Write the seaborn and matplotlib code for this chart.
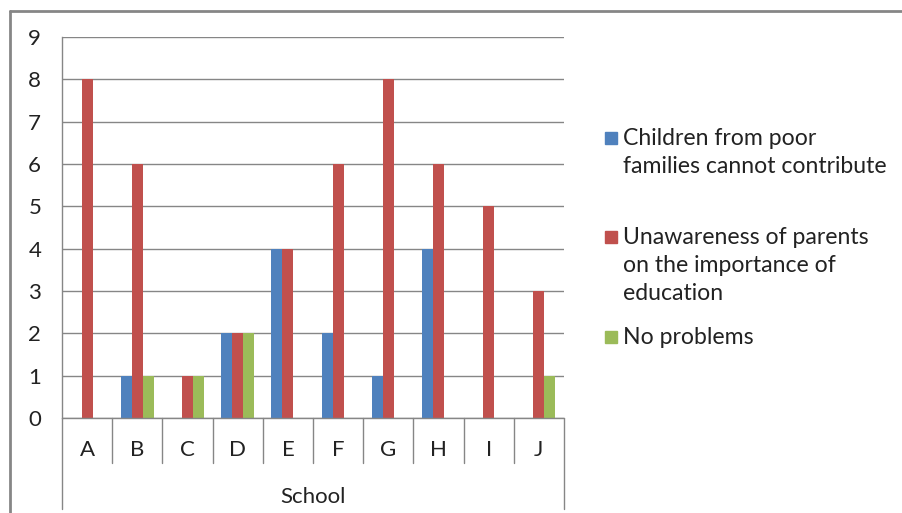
import matplotlib.pyplot as plt
import pandas as pd
import seaborn as sns
from matplotlib.patches import Rectangle
from matplotlib.transforms import blended_transform_factory

schools = ["A", "B", "C", "D", "E", "F", "G", "H", "I", "J"]
poor_families = [0, 1, 0, 2, 4, 2, 1, 4, 0, 0]
unaware_parents = [8, 6, 1, 2, 4, 6, 8, 6, 5, 3]
no_problems = [0, 1, 1, 2, 0, 0, 0, 0, 0, 1]

series_names = [
    "Children from poor\nfamilies cannot contribute",
    "Unawareness of parents\non the importance of\neducation",
    "No problems",
]
colors = ["#4F81BD", "#C0504D", "#9BBB59"]

df = pd.DataFrame({
    "School": schools * 3,
    "Count": poor_families + unaware_parents + no_problems,
    "Reason": [series_names[0]] * 10 + [series_names[1]] * 10 + [series_names[2]] * 10,
})

sns.set_style("white")
plt.rcParams["font.family"] = ["Lato", "DejaVu Sans"]
fs = 16
txt_c = "#222222"

fig = plt.figure(figsize=(9.03, 5.13), dpi=100)
ax = fig.add_axes([0.0687, 0.1852, 0.5559, 0.7427])

sns.barplot(
    data=df, x="School", y="Count", hue="Reason", order=schools,
    hue_order=series_names, palette=colors, width=0.66, saturation=1,
    legend=False, ax=ax, linewidth=0,
)

grid_c = "#868686"
ax.set_ylim(0, 9)
ax.set_xlim(-0.5, len(schools) - 0.5)
ax.set_yticks(range(10))
ax.yaxis.grid(True, color=grid_c, linewidth=1)
ax.set_axisbelow(True)
for side in ["top", "right", "bottom"]:
    ax.spines[side].set_visible(False)
ax.spines["left"].set_color(grid_c)
ax.spines["left"].set_linewidth(1)
ax.tick_params(axis="y", length=6, width=1, color=grid_c, pad=9,
               labelsize=fs, labelcolor=txt_c)
ax.tick_params(axis="x", length=0, pad=16, labelsize=fs, labelcolor=txt_c)
ax.set_ylabel("")
ax.set_xlabel("School", fontsize=fs, color=txt_c, labelpad=19)

# category table lines below the axis
tr = blended_transform_factory(ax.transData, ax.transAxes)
ax.plot([-0.5, len(schools) - 0.5], [0, 0], color=grid_c, lw=1,
        transform=tr, clip_on=False)
for i in range(len(schools) + 1):
    x = i - 0.5
    low = -0.24 if i in (0, len(schools)) else -0.118
    ax.plot([x, x], [0, low], color=grid_c, lw=1, transform=tr, clip_on=False)

# legend, handle aligned with first line of each label
W, H = 903, 513
legend_y = [138, 237, 337]
for name, c, y in zip(series_names, colors, legend_y):
    fig.patches.append(Rectangle((605 / W, 1 - (y + 6) / H), 12 / W, 12 / H,
                                 transform=fig.transFigure, color=c))
    fig.text(623 / W, 1 - (y - 10) / H, name, fontsize=16.6, color=txt_c,
             va="top", ha="left", linespacing=1.42)

# outer chart border (top and left)
fig.add_artist(plt.Line2D([10 / W, 10 / W], [0, 1 - 11 / H],
                          color=grid_c, lw=2, transform=fig.transFigure))
fig.add_artist(plt.Line2D([10 / W, 1], [1 - 11 / H, 1 - 11 / H],
                          color=grid_c, lw=2, transform=fig.transFigure))

fig.savefig("out.png", dpi=100)
